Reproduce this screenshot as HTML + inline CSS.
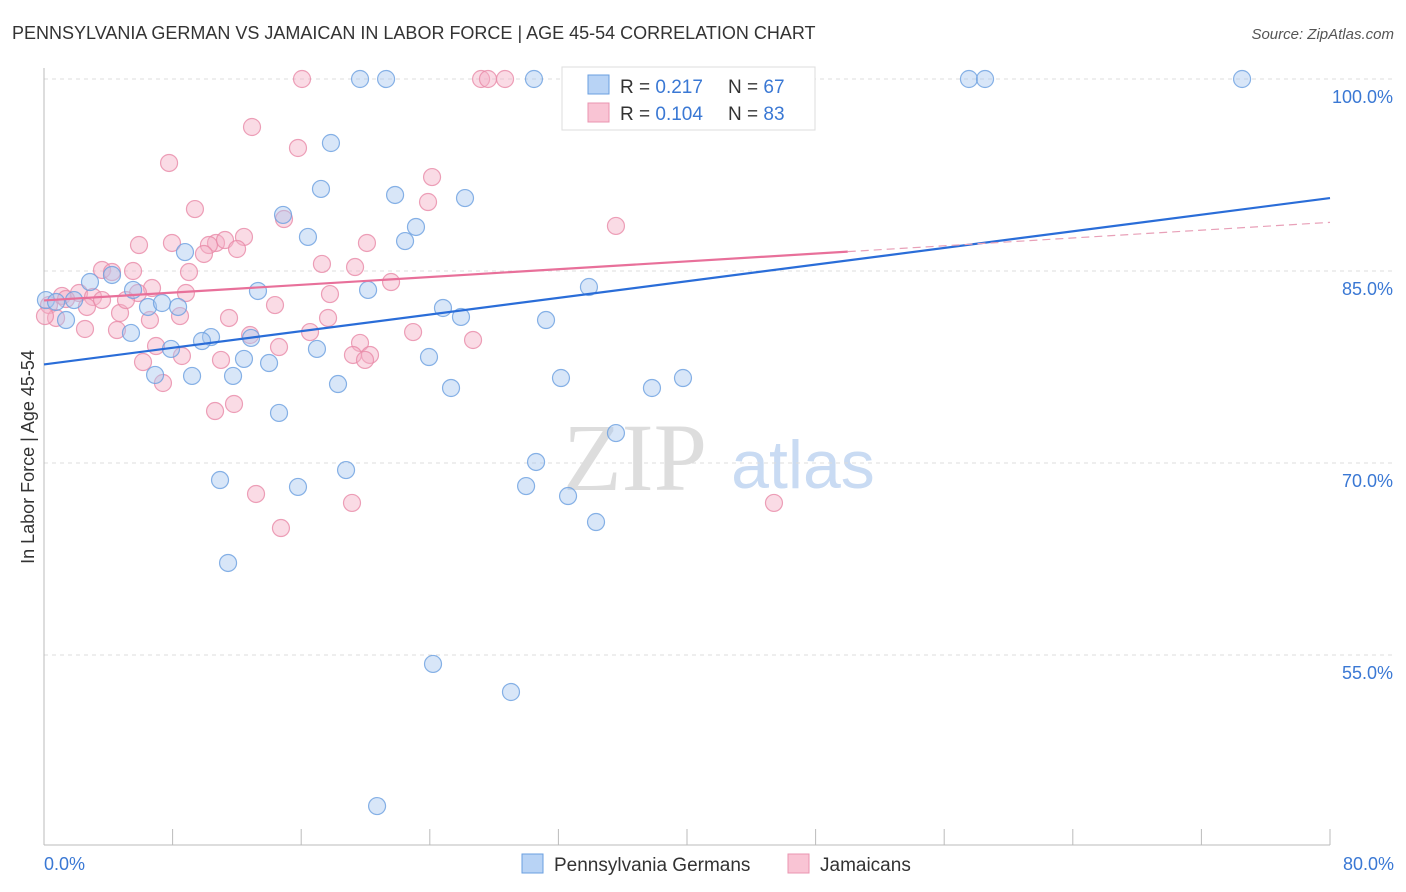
<!DOCTYPE html>
<html><head><meta charset="utf-8">
<style>
body{margin:0;background:#fff;font-family:"Liberation Sans",sans-serif;}
#wrap{position:relative;width:1406px;height:892px;overflow:hidden;}
</style></head>
<body>
<div id="wrap">
<svg id="chart" width="1406" height="892" xmlns="http://www.w3.org/2000/svg">
<text x="12" y="39" font-size="18" fill="#333">PENNSYLVANIA GERMAN VS JAMAICAN IN LABOR FORCE | AGE 45-54 CORRELATION CHART</text>
<text x="1394" y="39" font-size="15" fill="#555" font-style="italic" text-anchor="end">Source: ZipAtlas.com</text>
<text x="635" y="490" font-size="96" fill="#ddd" font-family="Liberation Serif,serif" text-anchor="middle">ZIP</text>
<text x="803" y="488" font-size="68" fill="#c9dbf3" text-anchor="middle">atlas</text>
<g id="grid"></g>
<g id="axes"></g>
<g id="pts"></g>
<g id="lines"></g>
<text transform="translate(34,457) rotate(-90)" font-size="18" fill="#333" text-anchor="middle">In Labor Force | Age 45-54</text>
<text x="44" y="870" font-size="18" fill="#3a78d4">0.0%</text>
<text x="1394" y="870" font-size="18" fill="#3a78d4" text-anchor="end">80.0%</text>
<g>
<rect x="562" y="67" width="253" height="63" fill="#fff" stroke="#ddd"/>
<rect x="588" y="75" width="21" height="19" fill="#b8d3f5" stroke="#6a9fe0"/>
<rect x="588" y="103" width="21" height="19" fill="#f9c4d4" stroke="#ea94b0"/>
<text x="620" y="93" font-size="19" fill="#333">R = <tspan fill="#3a78d4">0.217</tspan><tspan x="728">N = </tspan><tspan fill="#3a78d4">67</tspan></text>
<text x="620" y="120" font-size="19" fill="#333">R = <tspan fill="#3a78d4">0.104</tspan><tspan x="728">N = </tspan><tspan fill="#3a78d4">83</tspan></text>
</g>
<g>
<rect x="522" y="854" width="21" height="19" fill="#b8d3f5" stroke="#6a9fe0"/>
<text x="554" y="871" font-size="19" fill="#333">Pennsylvania Germans</text>
<rect x="788" y="854" width="21" height="19" fill="#f9c4d4" stroke="#ea94b0"/>
<text x="820" y="871" font-size="19" fill="#333">Jamaicans</text>
</g>
</svg>
</div>
<script>
const yTicks=[100,85,70,55];
const xTicks=[0,8,16,24,32,40,48,56,64,72,80];
const blueX=[19.66,21.28,30.48,46.84,57.54,58.54,74.53,17.85,17.23,21.84,26.19,14.87,23.14,16.42,22.46,8.77,2.86,4.23,5.54,13.31,20.16,33.9,0.12,0.75,1.87,6.47,7.34,8.34,24.82,25.94,31.23,1.37,5.41,10.39,9.83,12.88,7.9,16.98,12.44,14.0,23.95,6.91,9.21,11.76,18.29,25.32,32.16,37.82,39.75,14.62,35.58,30.61,18.79,10.95,15.8,29.99,32.6,34.34,11.45,24.2,29.05,20.72];
const blueY=[100,100,100,100,100,100,100,95.0,91.41,90.94,90.7,89.38,88.44,87.66,87.34,86.48,84.14,84.69,83.52,83.44,83.52,83.75,82.73,82.58,82.73,82.19,82.5,82.19,82.11,81.41,81.17,81.17,80.16,79.84,79.53,79.77,78.91,78.91,78.13,77.81,78.28,76.88,76.8,76.8,76.17,75.86,76.64,75.86,76.64,73.91,72.34,70.08,69.45,68.67,68.13,68.2,67.42,65.39,62.19,54.3,52.11,43.2];
const pinkX=[16.05,27.19,27.62,28.68,12.94,7.78,15.8,24.14,23.89,9.39,14.93,35.58,5.91,7.96,12.44,10.7,10.26,11.26,12.01,9.95,20.09,17.29,19.35,9.02,3.61,5.54,4.23,21.59,17.79,8.83,6.72,5.85,2.18,3.05,1.12,0.31,0.75,0.06,2.67,4.73,6.59,8.46,14.37,11.51,17.67,4.54,2.55,16.55,22.96,26.69,6.97,8.58,6.16,14.62,12.82,19.66,19.22,20.28,19.97,11.01,7.4,10.64,11.82,13.19,19.16,14.74,45.41,3.61,1.37,5.1];
const pinkY=[100,100,100,100,96.25,93.44,94.61,92.34,90.39,89.84,89.06,88.52,87.03,87.19,87.66,87.19,87.03,87.42,86.72,86.33,87.19,85.55,85.31,84.92,85.08,85.0,84.92,84.14,83.2,83.28,83.67,83.28,83.28,82.97,83.05,82.34,81.33,81.48,82.19,81.72,81.17,81.48,82.34,81.33,81.33,80.39,80.47,80.23,80.23,79.61,79.14,78.36,77.89,79.06,80.0,79.38,78.44,78.44,78.05,78.05,76.25,74.06,74.61,67.58,66.88,64.92,66.88,82.73,82.81,82.73];
const blueTrend=[77.7,90.7];
const pinkTrend=[82.7,88.8];
const pinkSolidEnd=50;

const NS='http://www.w3.org/2000/svg';
const sx=v=>44+v/80*1286;
const sy=v=>79+(100-v)*12.8;
function mk(tag,attrs,parent){const e=document.createElementNS(NS,tag);for(const k in attrs)e.setAttribute(k,attrs[k]);parent.appendChild(e);return e;}
const grid=document.getElementById('grid'),axes=document.getElementById('axes'),pts=document.getElementById('pts'),lines=document.getElementById('lines');
yTicks.forEach(t=>{
  const l=mk('line',{x1:44,x2:1393,y1:sy(t),y2:sy(t),stroke:'#ddd','stroke-dasharray':'4,4'},grid);
  
  
  const tx=mk('text',{x:1393,y:sy(t)+24,'font-size':18,fill:'#3a78d4','text-anchor':'end'},grid);
  tx.textContent=t.toFixed(1)+'%';
  
  
});
const ya=mk('line',{x1:44,x2:44,y1:68,y2:845,stroke:'#bbb'},axes);


const xa=mk('line',{x1:44,x2:1330,y1:845,y2:845,stroke:'#bbb'},axes);


xTicks.forEach(t=>{
  const l=mk('line',{x1:sx(t),x2:sx(t),y1:829,y2:845,stroke:'#bbb'},axes);
  
  
});
function dots(X,Y,fill,stroke,name){
  X.forEach((x,i)=>{
    const c=mk('circle',{cx:sx(x),cy:sy(Y[i]),r:8.5,fill:fill,'fill-opacity':0.45,stroke:stroke,'stroke-width':1.2,'stroke-opacity':0.8},pts);
    
    
  });
}
dots(pinkX,pinkY,'#f5b0c6','#e88aa8','jamaican-point');
dots(blueX,blueY,'#a8c8f0','#6a9fe0','pa-german-point');
const bl=mk('line',{x1:sx(0),y1:sy(blueTrend[0]),x2:sx(80),y2:sy(blueTrend[1]),stroke:'#2a6dd8','stroke-width':2.2},lines);


const pm=pinkTrend[0]+(pinkTrend[1]-pinkTrend[0])*pinkSolidEnd/80;
const pl=mk('line',{x1:sx(0),y1:sy(pinkTrend[0]),x2:sx(pinkSolidEnd),y2:sy(pm),stroke:'#e8709a','stroke-width':2.2},lines);


const pd=mk('line',{x1:sx(pinkSolidEnd),y1:sy(pm),x2:sx(80),y2:sy(pinkTrend[1]),stroke:'#e8a0b8','stroke-width':1.2,'stroke-dasharray':'8,5'},lines);


</script>
</body></html>
